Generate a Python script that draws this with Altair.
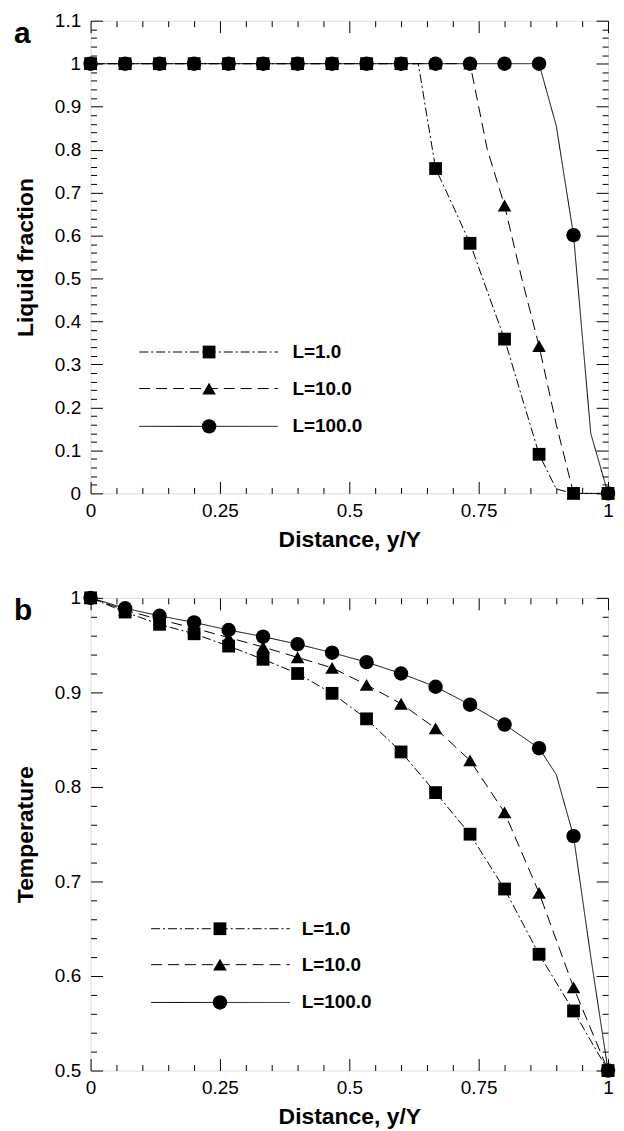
import altair as alt
import pandas as pd
import numpy as np

FONT = "Liberation Sans"
SERIES = ["L=1.0", "L=10.0", "L=100.0"]

# marker positions (distance y/Y)
X_MARK = [0.0, 0.0667, 0.1333, 0.2, 0.2667, 0.3333, 0.4, 0.4667,
          0.5333, 0.6, 0.6667, 0.7333, 0.8, 0.8667, 0.9333, 1.0]

# ---- panel a : liquid fraction (marker values) ----
A_L1 = [1.0, 1.0, 1.0, 1.0, 1.0, 1.0, 1.0, 1.0, 1.0, 1.0,
        0.756, 0.582, 0.359, 0.091, 0.0, 0.0]
A_L10 = [1.0, 1.0, 1.0, 1.0, 1.0, 1.0, 1.0, 1.0, 1.0, 1.0,
         1.0, 1.0, 0.67, 0.343, 0.0, 0.0]
A_L100 = [1.0, 1.0, 1.0, 1.0, 1.0, 1.0, 1.0, 1.0, 1.0, 1.0,
          1.0, 1.0, 1.0, 1.0, 0.601, 0.0]
# extra line vertices between markers
A_L1_EX_X = [0.6333, 0.7, 0.7667, 0.8333, 0.9]
A_L1_EX_Y = [1.0, 0.67, 0.47, 0.225, 0.01]
A_L10_EX_X = [0.7667, 0.8333, 0.9]
A_L10_EX_Y = [0.80, 0.50, 0.16]
A_L100_EX_X = [0.9, 0.9667]
A_L100_EX_Y = [0.855, 0.139]

# ---- panel b : temperature (marker values) ----
B_L1 = [1.0, 0.985, 0.972, 0.962, 0.949, 0.935, 0.920, 0.899,
        0.872, 0.837, 0.794, 0.750, 0.692, 0.623, 0.563, 0.5]
B_L10 = [1.0, 0.987, 0.977, 0.968, 0.958, 0.948, 0.937, 0.926,
         0.908, 0.888, 0.862, 0.828, 0.773, 0.688, 0.588, 0.5]
B_L100 = [1.0, 0.989, 0.981, 0.974, 0.966, 0.959, 0.951, 0.942,
          0.932, 0.920, 0.906, 0.887, 0.866, 0.841, 0.748, 0.5]
B_L100_EX_X = [0.9, 0.9667]
B_L100_EX_Y = [0.813, 0.62]

# axis tick values
X_MAJOR = [0, 0.25, 0.5, 0.75, 1]
X_MINOR = np.round(np.arange(0, 1.0001, 0.05), 4).tolist()
A_Y_MAJOR = [0, 0.1, 0.2, 0.3, 0.4, 0.5, 0.6, 0.7, 0.8, 0.9, 1, 1.1]
A_Y_MINOR = np.round(np.arange(0, 1.1001, 0.02), 4).tolist()
B_Y_MAJOR = [0.5, 0.6, 0.7, 0.8, 0.9, 1]
B_Y_MINOR = np.round(np.arange(0.5, 1.0001, 0.02), 4).tolist()

W, H = 520, 475


def make_frames(vals, extras):
    mk, ln = [], []
    for s, v, (ex, ey) in zip(SERIES, vals, extras):
        for x, y in zip(X_MARK, v):
            mk.append({"series": s, "x": x, "y": y})
            ln.append({"series": s, "x": x, "y": y})
        for x, y in zip(ex, ey):
            ln.append({"series": s, "x": x, "y": y})
    ln = pd.DataFrame(ln).sort_values(["series", "x"])
    return pd.DataFrame(mk), ln


def legend_frames(x0, x1, xm, xt, ys):
    lines, pts = [], []
    for s, y in zip(SERIES, ys):
        lines.append({"series": s, "x": x0, "y": y})
        lines.append({"series": s, "x": x1, "y": y})
        pts.append({"series": s, "x": xm, "y": y, "xt": xt})
    return pd.DataFrame(lines), pd.DataFrame(pts)


dash = alt.StrokeDash("series:N", scale=alt.Scale(domain=SERIES, range=[[9, 3, 2, 3], [11, 6], [1, 0]]), legend=None)
shape = alt.Shape("series:N", scale=alt.Scale(domain=SERIES, range=["square", "triangle-up", "circle"]), legend=None)
size = alt.Size("series:N", scale=alt.Scale(domain=SERIES, range=[165, 210, 330]), legend=None)


def tick_axis(orient, offset, values, test):
    return alt.Axis(orient=orient, offset=offset, values=values, labels=False,
                    domain=False, grid=False, ticks=True, tickColor="black", tickWidth=1,
                    tickSize={"condition": {"test": test, "value": 12}, "value": 6})


XTEST = "abs(datum.value*4 - round(datum.value*4)) < 0.001"
YTEST = "abs(datum.value*10 - round(datum.value*10)) < 0.001"


def panel(mk, ln, leg_ln, leg_pt, ydom, ymaj, ymin, ytitle, letter):
    xs = alt.Scale(domain=[0, 1], nice=False, zero=False)
    ys = alt.Scale(domain=ydom, nice=False, zero=False)
    xlab = alt.Axis(orient="bottom", values=X_MAJOR, format=".2~f", ticks=False, domain=False,
                    grid=False, labelFont=FONT, labelFontSize=19, labelColor="black",
                    labelPadding=8, labelFlush=False, labelOverlap=False,
                    title="Distance, y/Y", titleFont=FONT, titleFontSize=23,
                    titleFontWeight="bold", titleColor="black", titlePadding=8)
    ylab = alt.Axis(orient="left", values=ymaj, format=".1~f", ticks=False, domain=False,
                    grid=False, labelFont=FONT, labelFontSize=19, labelColor="black",
                    labelPadding=10, labelFlush=False, labelOverlap=False,
                    title=ytitle, titleFont=FONT, titleFontSize=23,
                    titleFontWeight="bold", titleColor="black", titlePadding=17)
    lines = alt.Chart(ln).mark_line(color="black", strokeWidth=1).encode(
        x=alt.X("x:Q", scale=xs, axis=xlab),
        y=alt.Y("y:Q", scale=ys, axis=ylab),
        strokeDash=dash, detail="series:N")
    pts = alt.Chart(mk).mark_point(filled=True, color="black", opacity=1).encode(
        x=alt.X("x:Q", scale=xs, axis=tick_axis("top", -H, X_MINOR, XTEST), title=None),
        y=alt.Y("y:Q", scale=ys, axis=tick_axis("right", -W, ymin, YTEST), title=None),
        shape=shape, size=size)
    lg_l = alt.Chart(leg_ln).mark_line(color="black", strokeWidth=1).encode(
        x=alt.X("x:Q", scale=xs, axis=tick_axis("bottom", -H, X_MINOR, XTEST), title=None),
        y=alt.Y("y:Q", scale=ys, axis=tick_axis("left", -W, ymin, YTEST), title=None),
        strokeDash=dash, detail="series:N")
    lg_p = alt.Chart(leg_pt).mark_point(filled=True, color="black", opacity=1).encode(
        x=alt.X("x:Q", scale=xs, axis=None),
        y=alt.Y("y:Q", scale=ys, axis=None),
        shape=shape, size=size)
    lg_t = alt.Chart(leg_pt).mark_text(align="left", baseline="middle", font=FONT,
                                       fontSize=19, fontWeight="bold", color="black").encode(
        x=alt.X("xt:Q", scale=xs, axis=None),
        y=alt.Y("y:Q", scale=ys, axis=None),
        text="series:N")
    return alt.layer(lines, pts, lg_l, lg_p, lg_t).properties(
        width=W, height=H,
        title=alt.TitleParams(letter, anchor="start", frame="group", orient="top",
                              dx=-77, dy=14, offset=-47, baseline="alphabetic",
                              font=FONT, fontSize=30, fontWeight="bold", color="black"),
    ).resolve_axis(x="independent", y="independent")


mkA, lnA = make_frames([A_L1, A_L10, A_L100],
                       [(A_L1_EX_X, A_L1_EX_Y), (A_L10_EX_X, A_L10_EX_Y), (A_L100_EX_X, A_L100_EX_Y)])
mkB, lnB = make_frames([B_L1, B_L10, B_L100],
                       [([], []), ([], []), (B_L100_EX_X, B_L100_EX_Y)])
legA_l, legA_p = legend_frames(0.094, 0.362, 0.229, 0.390, [0.329, 0.244, 0.156])
legB_l, legB_p = legend_frames(0.117, 0.385, 0.25, 0.408, [0.650, 0.612, 0.572])

pa = panel(mkA, lnA, legA_l, legA_p, [0, 1.1], A_Y_MAJOR, A_Y_MINOR, "Liquid fraction", "a")
pb = panel(mkB, lnB, legB_l, legB_p, [0.5, 1.0], B_Y_MAJOR, B_Y_MINOR, "Temperature", "b")

chart = alt.vconcat(pa, pb, spacing=36).resolve_scale(y="independent").properties(
    padding={"left": 5, "top": 0, "right": 0, "bottom": 0}
).configure_view(stroke="black", strokeWidth=1.6).configure(background="white")

chart.save("out.html", embed_options={"renderer": "svg", "actions": False})
